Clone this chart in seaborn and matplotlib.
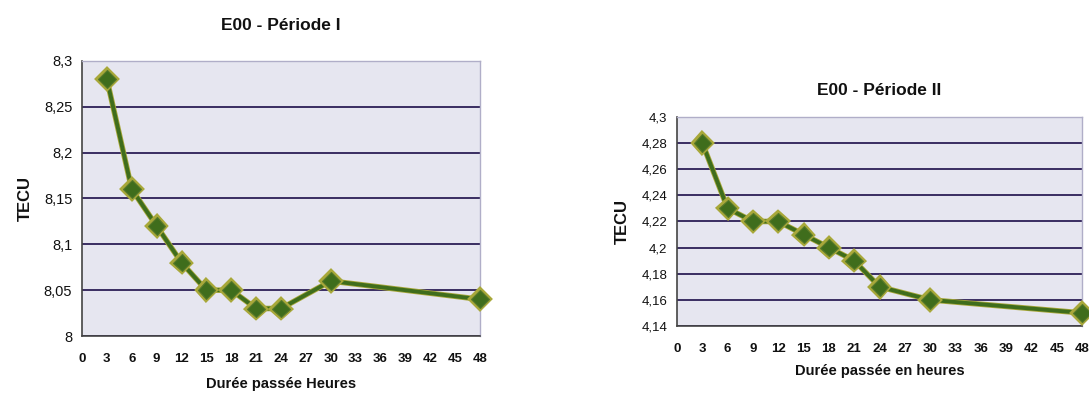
import matplotlib
matplotlib.use("Agg")
import matplotlib.pyplot as plt
import matplotlib.patheffects as pe
import seaborn as sns
import pandas as pd

# ---- data ----
hours = [3, 6, 9, 12, 15, 18, 21, 24, 30, 48]
tecu_p1 = [8.28, 8.16, 8.12, 8.08, 8.05, 8.05, 8.03, 8.03, 8.06, 8.04]
tecu_p2 = [4.28, 4.23, 4.22, 4.22, 4.21, 4.20, 4.19, 4.17, 4.16, 4.15]

x_ticks = list(range(0, 49, 3))
y_ticks_p1 = [8.0, 8.05, 8.1, 8.15, 8.2, 8.25, 8.3]
y_labels_p1 = ["8", "8,05", "8,1", "8,15", "8,2", "8,25", "8,3"]
y_ticks_p2 = [4.14, 4.16, 4.18, 4.2, 4.22, 4.24, 4.26, 4.28, 4.3]
y_labels_p2 = ["4,14", "4,16", "4,18", "4,2", "4,22", "4,24", "4,26", "4,28", "4,3"]

title_p1 = "E00 - Période I"
title_p2 = "E00 - Période II"
xlabel_p1 = "Durée passée Heures"
xlabel_p2 = "Durée passée en heures"
ylabel = "TECU"

sns.set_theme(style="white")
plt.rcParams["font.family"] = ["Liberation Sans", "DejaVu Sans"]

fig = plt.figure(figsize=(10.89, 3.93), dpi=100)
fig.patch.set_facecolor("white")

ax1 = fig.add_axes([0.0753, 0.145, 0.3655, 0.700])
ax2 = fig.add_axes([0.6217, 0.1705, 0.3719, 0.532])

line_col = "#3f6d1c"
edge_col = "#a8a83a"
mk_edge = "#55782a"
grid_col = "#3a2d62"
bg_col = "#e6e6f0"


def draw(ax, y, yticks, ylabels, title, xlabel, title_pad, xlab_pad, ytick_fs):
    df = pd.DataFrame({"h": hours, "v": y})
    ax.set_facecolor(bg_col)
    sns.lineplot(data=df, x="h", y="v", ax=ax, color=line_col, linewidth=2.8,
                 marker="D", markersize=9, markerfacecolor=line_col,
                 markeredgecolor=mk_edge, markeredgewidth=0.8,
                 path_effects=[pe.Stroke(linewidth=4.0, foreground=edge_col), pe.Normal()],
                 zorder=5, clip_on=False)
    ax.set_xlim(0, 48)
    ax.set_ylim(yticks[0], yticks[-1])
    ax.set_xticks(x_ticks)
    ax.set_xticklabels([str(v) for v in x_ticks], fontsize=9.5, fontweight="bold")
    ax.set_yticks(yticks)
    ax.set_yticklabels(ylabels, fontsize=ytick_fs)
    ax.yaxis.grid(True, color=grid_col, linewidth=1.4)
    ax.xaxis.grid(False)
    ax.set_axisbelow(True)
    ax.tick_params(axis="both", which="both", direction="out", length=4, width=1,
                   color="#333333", labelcolor="#111111", pad=8)
    ax.tick_params(axis="y", pad=3)
    for s in ["left", "bottom"]:
        ax.spines[s].set_color("#444444")
        ax.spines[s].set_linewidth(1.2)
    for s in ["top", "right"]:
        ax.spines[s].set_color("#b0aec8")
        ax.spines[s].set_linewidth(1.0)
    ax.set_title(title, fontsize=12.5, fontweight="bold", pad=title_pad, color="#111111")
    ax.set_xlabel(xlabel, fontsize=10.5, fontweight="bold", labelpad=xlab_pad, color="#111111")
    ax.set_ylabel(ylabel, fontsize=12, fontweight="bold", labelpad=8, color="#111111")


draw(ax1, tecu_p1, y_ticks_p1, y_labels_p1, title_p1, xlabel_p1, 22, 9, 10.5)
draw(ax2, tecu_p2, y_ticks_p2, y_labels_p2, title_p2, xlabel_p2, 16, 7, 9.5)

fig.savefig("out.png", dpi=100, facecolor="white")
